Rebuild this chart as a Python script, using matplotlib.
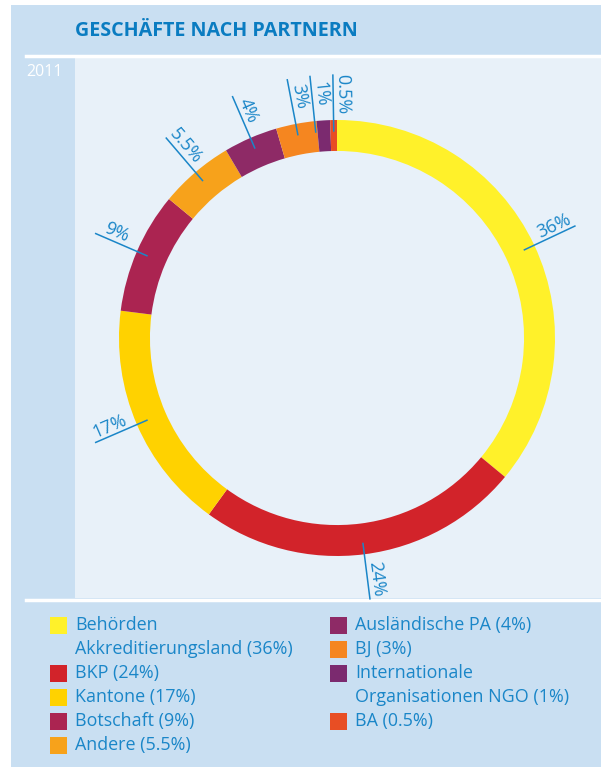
import numpy as np
import matplotlib
matplotlib.use("Agg")
import matplotlib.pyplot as plt
from matplotlib.patches import Rectangle

# Daten
labels = ["Behörden Akkreditierungsland", "BKP", "Kantone", "Botschaft", "Andere",
          "Ausländische PA", "BJ", "Internationale Organisationen NGO", "BA"]
shares = [36, 24, 17, 9, 5.5, 4, 3, 1, 0.5]
share_text = ["36%", "24%", "17%", "9%", "5.5%", "4%", "3%", "1%", "0.5%"]
colors = ["#fff12a", "#d2232a", "#ffd200", "#ab2451", "#f7a21b",
          "#8e2a66", "#f58620", "#7b2a6f", "#e84e24"]
legend_col1 = [("Behörden\nAkkreditierungsland (36%)", 0), ("BKP (24%)", 1),
               ("Kantone (17%)", 2), ("Botschaft (9%)", 3), ("Andere (5.5%)", 4)]
legend_col2 = [("Ausländische PA (4%)", 5), ("BJ (3%)", 6),
               ("Internationale\nOrganisationen NGO (1%)", 7), ("BA (0.5%)", 8)]
year = "2011"
title = "GESCHÄFTE NACH PARTNERN"

W, H = 601, 767
outer_bg = "#c9dff2"
inner_bg = "#e8f1f9"
blue = "#1a86c8"
plt.rcParams["font.family"] = ["Open Sans", "DejaVu Sans"]

fig = plt.figure(figsize=(W / 100, H / 100), dpi=100)
fig.patch.set_facecolor("white")

# Hintergrund in Pixelkoordinaten
bg = fig.add_axes([0, 0, 1, 1])
bg.set_xlim(0, W)
bg.set_ylim(H, 0)
bg.axis("off")
bg.add_patch(Rectangle((11, 5), W - 11, H - 5, color=outer_bg, lw=0))
bg.add_patch(Rectangle((75, 57), W - 75, 541, color=inner_bg, lw=0))
bg.plot([26, W], [56, 56], color="white", lw=2.5)
bg.plot([26, W], [600, 600], color="white", lw=2.5)
bg.text(75, 31, title, color="#0a7cc1", fontsize=14.2, fontweight="bold",
        va="center", ha="left")
bg.text(26, 72, year, color="white", fontsize=11.5, va="center", ha="left")

# Legende
def legend_column(x, items):
    y = 625
    for txt, i in items:
        bg.add_patch(Rectangle((x, y - 8), 17, 17, color=colors[i], lw=0))
        for part in txt.split("\n"):
            bg.text(x + 25, y, part, color=blue, fontsize=12.9, va="center", ha="left")
            y += 24

legend_column(50, legend_col1)
legend_column(330, legend_col2)

# Donut
cx, cy, R = 337, 338, 218
ax = fig.add_axes([(cx - R) / W, (H - cy - R) / H, 2 * R / W, 2 * R / H])
ax.pie(shares, colors=colors, startangle=90, counterclock=False, radius=1,
       wedgeprops=dict(width=0.142, linewidth=0))
ax.set_xlim(-1, 1)
ax.set_ylim(-1, 1)
ax.set_aspect("equal")
ax.axis("off")

# Winkel der Beschriftungen (kleine Segmente oben etwas auseinanderziehen)
cum = np.cumsum([0] + shares[:-1])
mids = 90 - (cum + np.array(shares) / 2) * 3.6
mids = np.where(mids < -180, mids + 360, mids)
angles = list(mids)
for k in range(len(angles) - 2, -1, -1):
    if angles[k] > 60 and angles[k] - angles[k + 1] < 5:
        angles[k] = angles[k + 1] + 5

for ang_deg, t in zip(angles, share_text):
    ang = np.deg2rad(ang_deg)
    ca, sa = np.cos(ang), np.sin(ang)
    ax.plot([0.95 * ca, 1.206 * ca], [0.95 * sa, 1.206 * sa], color=blue,
            lw=1.1, clip_on=False)
    rot = ang_deg
    if ca < 0:
        rot -= 180
    ax.text(1.12 * ca, 1.12 * sa, t, rotation=rot, rotation_mode="anchor",
            ha="center", va="bottom", color=blue, fontsize=13, clip_on=False)

fig.savefig("out.png", dpi=100, facecolor="white")
